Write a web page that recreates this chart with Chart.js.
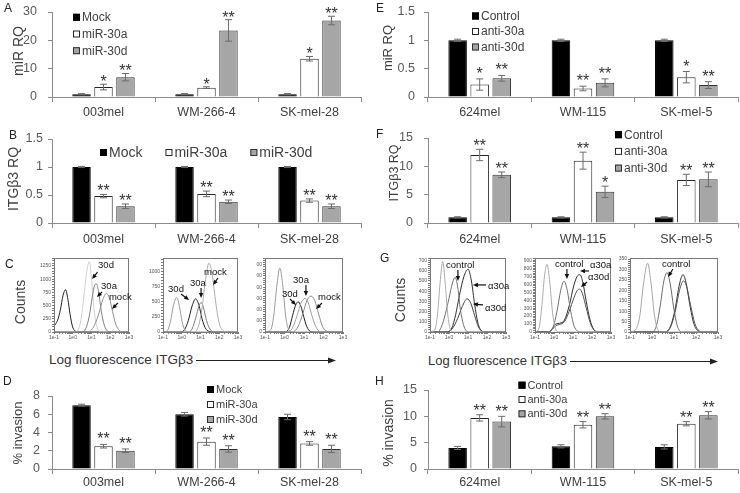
<!DOCTYPE html>
<html>
<head>
<meta charset="utf-8">
<script src="https://cdn.jsdelivr.net/npm/chart.js@4.4.1/dist/chart.umd.min.js"></script>
<style>
    body { margin: 0; background: #fff; }
    #fig { position: relative; width: 740px; height: 493px; overflow: hidden; font-family: "Liberation Sans", Arial, sans-serif; color: #404040; }
    #fig canvas { position: absolute; }
    .txt { position: absolute; line-height: 1; white-space: nowrap; }
    .vt { position: absolute; line-height: 1; white-space: nowrap; transform: translate(-50%, -50%) rotate(-90deg); }
    .pl { position: absolute; line-height: 1; font-size: 12px; color: #222; }
</style>
</head>
<body>
<div id="fig">
    <canvas id="chartA"></canvas>
    <canvas id="chartE"></canvas>
    <canvas id="chartB"></canvas>
    <canvas id="chartF"></canvas>
    <canvas id="chartD"></canvas>
    <canvas id="chartH"></canvas>
    <canvas id="histC1"></canvas>
    <canvas id="histC2"></canvas>
    <canvas id="histC3"></canvas>
    <canvas id="histG1"></canvas>
    <canvas id="histG2"></canvas>
    <canvas id="histG3"></canvas>

    <div class="pl" style="left:4px;top:2px">A</div>
    <div class="pl" style="left:9px;top:129px">B</div>
    <div class="pl" style="left:5px;top:258px">C</div>
    <div class="pl" style="left:3px;top:375px">D</div>
    <div class="pl" style="left:376px;top:2px">E</div>
    <div class="pl" style="left:376px;top:128px">F</div>
    <div class="pl" style="left:380px;top:252px">G</div>
    <div class="pl" style="left:375px;top:375px">H</div>

    <div class="vt" style="left:17.5px;top:51px;font-size:14px">miR RQ</div>
    <div class="vt" style="left:387px;top:47.5px;font-size:13px">miR RQ</div>
    <div class="vt" style="left:13px;top:179px;font-size:14px">ITGβ3 RQ</div>
    <div class="vt" style="left:394px;top:172.5px;font-size:12.5px">ITGβ3 RQ</div>
    <div class="vt" style="left:17px;top:433px;font-size:13px">% invasion</div>
    <div class="vt" style="left:387.5px;top:432.5px;font-size:14px">% invasion</div>
    <div class="vt" style="left:20px;top:302px;font-size:14px">Counts</div>
    <div class="vt" style="left:400px;top:300px;font-size:14px">Counts</div>

    <div class="txt" style="left:49px;top:353px;font-size:13.5px;color:#333">Log fluorescence ITGβ3</div>
    <div class="txt" style="left:428px;top:354px;font-size:13px;color:#333">Log fluorescence ITGβ3</div>
    <svg width="740" height="493" style="position:absolute;left:0;top:0">
        <line x1="196" y1="360.5" x2="330" y2="360.5" stroke="#222" stroke-width="1"/>
        <polygon points="336,360.5 328,357.5 328,363.5" fill="#222"/>
        <line x1="570" y1="361.5" x2="712" y2="361.5" stroke="#222" stroke-width="1"/>
        <polygon points="718,361.5 710,358.5 710,364.5" fill="#222"/>
    </svg>
</div>

<script>
// cell lines and groups
const miRCells = ['003mel', 'WM-266-4', 'SK-mel-28'];
const antiCells = ['624mel', 'WM-115', 'SK-mel-5'];
const miRNames = ['Mock', 'miR-30a', 'miR-30d'];
const antiNames = ['Control', 'anti-30a', 'anti-30d'];
const noStars = ['', '', ''];

// A - miR RQ after miR transfection
const aTicks = [0, 10, 20, 30];
const aMock = [1, 1, 1];
const aMockErr = [0.2, 0.2, 0.2];
const a30a = [3.5, 3.3, 13.5];
const a30aErr = [1.0, 0.3, 0.8];
const a30aStars = ['*', '*', '*'];
const a30d = [7.0, 23.5, 27.0];
const a30dErr = [1.3, 3.8, 1.5];
const a30dStars = ['**', '**', '**'];

// E - miR RQ after anti-miR
const eTicks = [0, 0.5, 1, 1.5];
const eCtrl = [1, 1, 1];
const eCtrlErr = [0.02, 0.02, 0.02];
const e30a = [0.22, 0.15, 0.35];
const e30aErr = [0.1, 0.04, 0.1];
const e30aStars = ['*', '**', '*'];
const e30d = [0.33, 0.25, 0.21];
const e30dErr = [0.05, 0.07, 0.06];
const e30dStars = ['**', '**', '**'];

// B - ITGB3 RQ
const bTicks = [0, 0.5, 1, 1.5];
const bMock = [1, 1, 1];
const bMockErr = [0.01, 0.01, 0.01];
const b30a = [0.48, 0.52, 0.40];
const b30aErr = [0.03, 0.05, 0.03];
const b30d = [0.30, 0.38, 0.30];
const b30dErr = [0.04, 0.03, 0.04];
const bStars = ['**', '**', '**'];

// F - ITGB3 RQ after anti-miR
const fTicks = [0, 5, 10, 15];
const fCtrl = [1, 1, 1];
const fCtrlErr = [0.1, 0.1, 0.1];
const f30a = [12.0, 11.0, 7.6];
const f30aErr = [1.0, 1.5, 1.0];
const f30aStars = ['**', '**', '**'];
const f30d = [8.5, 5.5, 7.7];
const f30dErr = [0.5, 1.0, 1.3];
const f30dStars = ['**', '*', '**'];

// D - % invasion
const dTicks = [0, 2, 4, 6, 8];
const dMock = [7.0, 6.0, 5.7];
const dMockErr = [0.1, 0.2, 0.3];
const d30a = [2.5, 3.0, 2.8];
const d30aErr = [0.2, 0.4, 0.2];
const d30d = [2.0, 2.2, 2.2];
const d30dErr = [0.2, 0.35, 0.4];
const dStars = ['**', '**', '**'];

// H - % invasion after anti-miR
const hTicks = [0, 5, 10, 15];
const hCtrl = [4.0, 4.3, 4.2];
const hCtrlErr = [0.3, 0.3, 0.4];
const h30a = [9.7, 8.4, 8.6];
const h30aErr = [0.6, 0.6, 0.4];
const h30d = [9.0, 10.0, 10.2];
const h30dErr = [1.0, 0.5, 0.7];
const hStars = ['**', '**', '**'];

// flow histograms: [log10 fluorescence, counts]
const histXLabels = ['1e-1', '1e0', '1e1', '1e2', '1e3'];

const c1Ticks = [0, 250, 500, 750, 1000, 1250];
const c1Iso = [[-1, 110], [-0.9, 160], [-0.78, 250], [-0.66, 420], [-0.52, 690], [-0.38, 800], [-0.26, 620], [-0.14, 330], [-0.02, 110], [0.12, 20], [0.3, 0], [3, 0]];
const c1d = [[-1, 0], [0.1, 0], [0.3, 50], [0.45, 260], [0.6, 700], [0.75, 1150], [0.88, 1330], [1.0, 1020], [1.1, 560], [1.22, 200], [1.35, 50], [1.55, 0], [3, 0]];
const c1a = [[-1, 0], [0.5, 0], [0.7, 70], [0.88, 300], [1.04, 660], [1.16, 880], [1.26, 910], [1.38, 760], [1.52, 400], [1.68, 130], [1.85, 20], [2.05, 0], [3, 0]];
const c1Mock = [[-1, 0], [0.8, 0], [1.0, 40], [1.2, 160], [1.4, 360], [1.6, 610], [1.8, 730], [1.96, 640], [2.12, 390], [2.3, 140], [2.5, 25], [2.7, 0], [3, 0]];

const c2Ticks = [0, 250, 500, 750, 1000];
const c2Iso = [[-1, 0], [-0.75, 30], [-0.6, 180], [-0.45, 430], [-0.27, 570], [-0.12, 420], [0.02, 170], [0.18, 30], [0.4, 0], [3, 0]];
const c2d = [[-1, 0], [-0.1, 0], [0.15, 40], [0.35, 190], [0.55, 430], [0.74, 550], [0.92, 440], [1.08, 220], [1.25, 70], [1.45, 10], [1.7, 0], [3, 0]];
const c2a = [[-1, 0], [0.35, 0], [0.55, 50], [0.75, 240], [0.92, 430], [1.04, 490], [1.16, 400], [1.32, 190], [1.5, 50], [1.75, 0], [3, 0]];
const c2Mock = [[-1, 0], [0.6, 0], [0.85, 60], [1.05, 330], [1.25, 820], [1.45, 1140], [1.62, 960], [1.82, 470], [2.0, 140], [2.2, 25], [2.45, 0], [3, 0]];

const c3Ticks = [0, 100, 200, 300, 400, 500, 600];
const c3TickLabels = ['0', '00', '00', '00', '00', '00', '00'];
const c3Iso = [[-1, 0], [-0.7, 20], [-0.55, 150], [-0.4, 400], [-0.24, 570], [-0.08, 400], [0.06, 140], [0.22, 20], [0.4, 0], [3, 0]];
const c3d = [[-1, 0], [0.05, 0], [0.25, 40], [0.42, 150], [0.57, 240], [0.7, 270], [0.84, 230], [0.98, 140], [1.14, 50], [1.32, 5], [1.5, 0], [3, 0]];
const c3a = [[-1, 0], [0.2, 0], [0.45, 50], [0.65, 150], [0.85, 260], [1.05, 300], [1.22, 260], [1.4, 150], [1.6, 50], [1.85, 0], [3, 0]];
const c3Mock = [[-1, 0], [0.4, 0], [0.7, 50], [0.95, 170], [1.15, 280], [1.35, 320], [1.55, 280], [1.75, 160], [1.95, 50], [2.2, 5], [2.4, 0], [3, 0]];

const g1Ticks = [0, 100, 200, 300, 400, 500, 600, 700];
const g1Iso = [[-1, 0], [-0.75, 20], [-0.6, 180], [-0.47, 480], [-0.33, 690], [-0.2, 480], [-0.07, 180], [0.08, 20], [0.25, 0], [3, 0]];
const g1Ctrl = [[-1, 0], [-0.6, 0], [-0.4, 50], [-0.2, 170], [0.0, 330], [0.18, 480], [0.32, 535], [0.46, 440], [0.6, 220], [0.78, 60], [0.95, 5], [1.1, 0], [3, 0]];
const g1a = [[-1, 0], [-0.1, 0], [0.15, 40], [0.35, 170], [0.55, 360], [0.78, 540], [1.0, 615], [1.18, 500], [1.35, 270], [1.52, 90], [1.72, 10], [1.9, 0], [3, 0]];
const g1d = [[-1, 0], [-0.1, 0], [0.2, 40], [0.45, 130], [0.7, 250], [0.95, 325], [1.15, 280], [1.35, 160], [1.55, 50], [1.75, 5], [1.95, 0], [3, 0]];

const g2Ticks = [0, 100, 200, 300, 400, 500, 600, 700, 800, 900];
const g2Iso = [[-1, 0], [-0.8, 40], [-0.65, 300], [-0.5, 700], [-0.37, 850], [-0.22, 620], [-0.08, 250], [0.08, 40], [0.25, 0], [3, 0]];
const g2Ctrl = [[-1, 0], [-0.3, 0], [-0.05, 60], [0.15, 250], [0.35, 520], [0.53, 640], [0.7, 520], [0.88, 260], [1.05, 80], [1.25, 10], [1.45, 0], [3, 0]];
const g2a = [[-1, 0], [-0.3, 0], [-0.1, 40], [0.1, 100], [0.3, 110], [0.55, 150], [0.8, 330], [1.05, 590], [1.25, 710], [1.37, 720], [1.52, 620], [1.7, 380], [1.9, 150], [2.1, 30], [2.35, 0], [3, 0]];
const g2d = [[-1, 0], [-0.3, 0], [-0.1, 30], [0.1, 80], [0.3, 95], [0.55, 130], [0.8, 260], [1.05, 430], [1.22, 520], [1.35, 540], [1.5, 480], [1.7, 300], [1.9, 120], [2.1, 25], [2.35, 0], [3, 0]];

const g3Ticks = [0, 50, 100, 150, 200, 250, 300, 350];
const g3Iso = [[-1, 0], [-0.75, 10], [-0.55, 80], [-0.4, 220], [-0.2, 330], [-0.05, 240], [0.1, 90], [0.25, 15], [0.45, 0], [3, 0]];
const g3Ctrl = [[-1, 0], [0.0, 0], [0.2, 30], [0.38, 130], [0.53, 240], [0.68, 285], [0.83, 230], [0.98, 120], [1.15, 30], [1.35, 0], [3, 0]];
const g3a = [[-1, 0], [0.6, 0], [0.85, 30], [1.05, 110], [1.25, 230], [1.41, 275], [1.56, 230], [1.72, 130], [1.9, 40], [2.1, 5], [2.3, 0], [3, 0]];
const g3d = [[-1, 0], [0.6, 0], [0.85, 25], [1.05, 95], [1.25, 200], [1.43, 245], [1.58, 215], [1.75, 130], [1.95, 40], [2.15, 5], [2.35, 0], [3, 0]];

Chart.defaults.font.family = '"Liberation Sans", Arial, sans-serif';

const barFill = ['#000000', '#ffffff', '#a6a6a6'];
const barEdge = ['#000000', '#262626', '#303030'];

// error bars, asterisks and the small legend of the bar panels
const barExtras = {
    id: 'barExtras',
    afterDatasetsDraw(chart, args, opts) {
        if (!opts || !opts.legend) return;
        const ctx = chart.ctx;
        const y = chart.scales.y;
        ctx.save();
        chart.data.datasets.forEach((ds, i) => {
            chart.getDatasetMeta(i).data.forEach((bar, j) => {
                const top = y.getPixelForValue(ds.data[j] + ds.errors[j]);
                const bot = y.getPixelForValue(ds.data[j] - ds.errors[j]);
                ctx.strokeStyle = '#6b6b6b';
                ctx.lineWidth = 1;
                ctx.beginPath();
                ctx.moveTo(bar.x, top); ctx.lineTo(bar.x, bot);
                ctx.moveTo(bar.x - 3.5, top); ctx.lineTo(bar.x + 3.5, top);
                ctx.moveTo(bar.x - 3.5, bot); ctx.lineTo(bar.x + 3.5, bot);
                ctx.stroke();
                if (ds.stars[j]) {
                    ctx.fillStyle = '#333';
                    ctx.font = '16px "Liberation Sans", Arial';
                    ctx.textAlign = 'center';
                    ctx.textBaseline = 'alphabetic';
                    ctx.fillText(ds.stars[j], bar.x, top - opts.starGap + 7);
                }
            });
        });

        // legend
        const lg = opts.legend;
        const sq = 7;
        let lx = lg.x, ly = lg.y;
        ctx.font = lg.size + 'px "Liberation Sans", Arial';
        ctx.textAlign = 'left';
        ctx.textBaseline = 'middle';
        chart.data.datasets.forEach(ds => {
            ctx.fillStyle = ds.backgroundColor;
            ctx.fillRect(lx, ly - sq / 2, sq, sq);
            ctx.strokeStyle = ds.borderColor;
            ctx.strokeRect(lx + 0.5, ly - sq / 2 + 0.5, sq - 1, sq - 1);
            ctx.fillStyle = '#404040';
            ctx.fillText(ds.label, lx + sq + 2, ly + 0.5);
            if (lg.horizontal) {
                lx += sq + 2 + ctx.measureText(ds.label).width + lg.gap;
            } else {
                ly += lg.step;
            }
        });
        ctx.restore();
    }
};

// frame, labels and arrows of the flow histograms
const histNotes = {
    id: 'histNotes',
    afterDatasetsDraw(chart, args, opts) {
        if (!opts || !opts.notes) return;
        const { ctx, chartArea, scales: { x, y } } = chart;
        ctx.save();
        ctx.strokeStyle = '#7a7a7a';
        ctx.lineWidth = 1;
        ctx.strokeRect(chartArea.left + 0.5, chartArea.top + 0.5, chartArea.width - 1, chartArea.height);
        ctx.font = '9.5px "Liberation Sans", Arial';
        ctx.textAlign = 'left';
        ctx.textBaseline = 'alphabetic';
        opts.notes.forEach(n => {
            ctx.fillStyle = '#111';
            ctx.fillText(n.text, x.getPixelForValue(n.x), y.getPixelForValue(n.y));
            const x1 = x.getPixelForValue(n.arrow[0]), y1 = y.getPixelForValue(n.arrow[1]);
            const x2 = x.getPixelForValue(n.arrow[2]), y2 = y.getPixelForValue(n.arrow[3]);
            const ang = Math.atan2(y2 - y1, x2 - x1);
            ctx.strokeStyle = '#111';
            ctx.lineWidth = 1.2;
            ctx.beginPath();
            ctx.moveTo(x1, y1);
            ctx.lineTo(x2 - 3 * Math.cos(ang), y2 - 3 * Math.sin(ang));
            ctx.stroke();
            ctx.beginPath();
            ctx.moveTo(x2, y2);
            ctx.lineTo(x2 - 5 * Math.cos(ang) + 2.2 * Math.sin(ang), y2 - 5 * Math.sin(ang) - 2.2 * Math.cos(ang));
            ctx.lineTo(x2 - 5 * Math.cos(ang) - 2.2 * Math.sin(ang), y2 - 5 * Math.sin(ang) + 2.2 * Math.cos(ang));
            ctx.closePath();
            ctx.fill();
        });
        ctx.restore();
    }
};

Chart.register(barExtras, histNotes);

function place(canvas, box) {
    canvas.width = box.w;
    canvas.height = box.h;
    canvas.style.left = box.x + 'px';
    canvas.style.top = box.y + 'px';
}

// box = canvas on the page, area = wanted plot area on the page
function barChart(id, box, area, spec) {
    const canvas = document.getElementById(id);
    place(canvas, box);
    const yw = area.l - box.x;
    const xh = box.y + box.h - area.b;
    const ticks = spec.ticks;
    return new Chart(canvas, {
        type: 'bar',
        data: {
            labels: spec.labels,
            datasets: spec.series.map((s, i) => ({
                label: spec.names[i],
                data: s[0],
                errors: s[1],
                stars: s[2],
                backgroundColor: barFill[i],
                borderColor: barEdge[i],
                borderWidth: 1,
                barPercentage: 0.84,
                categoryPercentage: 0.64
            }))
        },
        options: {
            responsive: false,
            animation: false,
            events: [],
            layout: { padding: { left: 0, top: area.t - box.y, right: box.x + box.w - area.r, bottom: 0 } },
            plugins: {
                legend: { display: false },
                tooltip: { enabled: false },
                barExtras: {
                    starGap: spec.starGap,
                    legend: Object.assign({}, spec.legend, { x: spec.legend.x - box.x, y: spec.legend.y - box.y })
                }
            },
            scales: {
                x: {
                    ticks: { color: '#404040', font: { size: 12.5 }, padding: spec.xPad },
                    grid: { drawOnChartArea: false, tickLength: 5, color: '#8c8c8c', offset: true },
                    border: { color: '#8c8c8c' },
                    afterFit: s => { s.height = xh; s.paddingLeft = 0; s.paddingRight = 0; }
                },
                y: {
                    min: 0,
                    max: ticks[ticks.length - 1],
                    afterBuildTicks: s => { s.ticks = ticks.map(v => ({ value: v })); },
                    ticks: { color: '#595959', font: { size: 12.5 }, padding: spec.yPad, callback: v => String(v) },
                    grid: { drawOnChartArea: false, tickLength: 4, color: '#8c8c8c' },
                    border: { color: '#8c8c8c' },
                    afterFit: s => { s.width = yw; s.paddingTop = 0; s.paddingBottom = 0; }
                }
            }
        }
    });
}

// log ticks of the histograms, 1e-1 .. 1e3 with minor ticks
const logTickValues = [];
for (let d = -1; d < 3; d++) {
    for (let k = 1; k < 10; k++) logTickValues.push(d + Math.log10(k));
}
logTickValues.push(3);

function histChart(id, frame, spec) {
    const canvas = document.getElementById(id);
    const box = { x: frame.l - 26, y: frame.t - 8, w: frame.r - frame.l + 34, h: frame.b - frame.t + 18 };
    place(canvas, box);
    const majors = spec.yTicks;
    const labels = spec.yLabels || majors.map(String);
    return new Chart(canvas, {
        type: 'line',
        data: {
            datasets: spec.curves.map((c, i) => ({
                data: c.map(p => ({ x: p[0], y: p[1] })),
                borderColor: spec.colors[i],
                borderWidth: 1,
                pointRadius: 0,
                fill: false,
                cubicInterpolationMode: 'monotone'
            }))
        },
        options: {
            responsive: false,
            animation: false,
            events: [],
            layout: { padding: { left: 0, top: 8, right: 8, bottom: 0 } },
            plugins: { legend: { display: false }, tooltip: { enabled: false }, histNotes: { notes: spec.notes } },
            scales: {
                x: {
                    type: 'linear', min: -1, max: 3,
                    afterBuildTicks: s => { s.ticks = logTickValues.map(v => ({ value: v })); },
                    ticks: {
                        autoSkip: false, maxRotation: 0, padding: 1, color: '#555', font: { size: 5 },
                        callback: v => (Math.abs(v - Math.round(v)) < 1e-6 ? histXLabels[Math.round(v) + 1] : '')
                    },
                    grid: { drawOnChartArea: false, tickLength: 2, color: '#7a7a7a' },
                    border: { color: '#7a7a7a' },
                    afterFit: s => { s.height = 10; s.paddingLeft = 0; s.paddingRight = 0; }
                },
                y: {
                    min: 0, max: spec.yMax,
                    afterBuildTicks: s => {
                        const minor = (majors[1] - majors[0]) / 5;
                        const list = [];
                        for (let v = 0; v <= spec.yMax + 1e-9; v += minor) list.push({ value: Math.round(v * 1000) / 1000 });
                        s.ticks = list;
                    },
                    ticks: {
                        autoSkip: false, padding: 1, color: '#555', font: { size: 5 },
                        callback: v => { const i = majors.indexOf(v); return i >= 0 ? labels[i] : ''; }
                    },
                    grid: { drawOnChartArea: false, tickLength: 2, color: '#7a7a7a' },
                    border: { color: '#7a7a7a' },
                    afterFit: s => { s.width = 26; s.paddingTop = 0; s.paddingBottom = 0; }
                }
            }
        }
    });
}

// bar panels
barChart('chartA', { x: 0, y: 0, w: 370, h: 123 }, { l: 52, t: 12, r: 361, b: 97 }, {
    labels: miRCells, names: miRNames, ticks: aTicks, xPad: 3, yPad: 11, starGap: 4,
    series: [[aMock, aMockErr, noStars], [a30a, a30aErr, a30aStars], [a30d, a30dErr, a30dStars]],
    legend: { x: 73, y: 17.3, step: 16.7, size: 12 }
});
barChart('chartE', { x: 370, y: 0, w: 370, h: 123 }, { l: 428, t: 12, r: 738, b: 97 }, {
    labels: antiCells, names: antiNames, ticks: eTicks, xPad: 3.5, yPad: 9, starGap: 7,
    series: [[eCtrl, eCtrlErr, noStars], [e30a, e30aErr, e30aStars], [e30d, e30dErr, e30dStars]],
    legend: { x: 472, y: 16, step: 15.5, size: 12 }
});
barChart('chartB', { x: 0, y: 123, w: 370, h: 127 }, { l: 52, t: 139, r: 361, b: 223 }, {
    labels: miRCells, names: miRNames, ticks: bTicks, xPad: 4, yPad: 5, starGap: 5,
    series: [[bMock, bMockErr, noStars], [b30a, b30aErr, bStars], [b30d, b30dErr, bStars]],
    legend: { x: 100, y: 152.5, size: 14, horizontal: true, gap: 23 }
});
barChart('chartF', { x: 370, y: 123, w: 370, h: 127 }, { l: 428, t: 138, r: 738, b: 223 }, {
    labels: antiCells, names: antiNames, ticks: fTicks, xPad: 4, yPad: 11, starGap: 5,
    series: [[fCtrl, fCtrlErr, noStars], [f30a, f30aErr, f30aStars], [f30d, f30dErr, f30dStars]],
    legend: { x: 615, y: 134.7, step: 16.7, size: 12 }
});
barChart('chartD', { x: 0, y: 375, w: 370, h: 118 }, { l: 52, t: 396, r: 361, b: 469 }, {
    labels: miRCells, names: miRNames, ticks: dTicks, xPad: 1, yPad: 8, starGap: 7,
    series: [[dMock, dMockErr, noStars], [d30a, d30aErr, dStars], [d30d, d30dErr, dStars]],
    legend: { x: 207, y: 389.5, step: 15, size: 11 }
});
barChart('chartH', { x: 370, y: 375, w: 370, h: 118 }, { l: 428, t: 390, r: 738, b: 469 }, {
    labels: antiCells, names: antiNames, ticks: hTicks, xPad: 1, yPad: 7, starGap: 6,
    series: [[hCtrl, hCtrlErr, noStars], [h30a, h30aErr, hStars], [h30d, h30dErr, hStars]],
    legend: { x: 518.5, y: 385.2, step: 14.3, size: 11 }
});

// flow panels
histChart('histC1', { l: 54, r: 129, t: 258, b: 332 }, {
    yMax: 1400, yTicks: c1Ticks,
    curves: [c1Mock, c1a, c1d, c1Iso], colors: ['#8f8f8f', '#808080', '#cfcfcf', '#1e1e1e'],
    notes: [
        { text: '30d', x: 1.35, y: 1211, arrow: [1.32, 1135, 1.03, 1003] },
        { text: '30a', x: 1.51, y: 814, arrow: [1.56, 757, 1.29, 662] },
        { text: 'mock', x: 1.93, y: 605, arrow: [2.41, 549, 2.09, 435] }
    ]
});
histChart('histC2', { l: 163, r: 238, t: 258, b: 332 }, {
    yMax: 1225, yTicks: c2Ticks,
    curves: [c2Mock, c2Iso, c2a, c2d], colors: ['#ababab', '#9a9a9a', '#7a7a7a', '#1e1e1e'],
    notes: [
        { text: '30d', x: -0.73, y: 662, arrow: [-0.04, 629, 0.39, 530] },
        { text: '30a', x: 0.44, y: 761, arrow: [1.03, 728, 1.03, 563] },
        { text: 'mock', x: 1.19, y: 943, arrow: [1.93, 894, 1.67, 778] }
    ]
});
histChart('histC3', { l: 265, r: 343, t: 258, b: 332 }, {
    yMax: 660, yTicks: c3Ticks, yLabels: c3TickLabels,
    curves: [c3Mock, c3a, c3Iso, c3d], colors: ['#8a8a8a', '#a0a0a0', '#9a9a9a', '#1e1e1e'],
    notes: [
        { text: '30a', x: 0.44, y: 437, arrow: [1.1, 419, 1.1, 321] },
        { text: '30d', x: -0.13, y: 312, arrow: [0.28, 294, 0.59, 241] },
        { text: 'mock', x: 1.72, y: 285, arrow: [1.92, 259, 1.62, 205] }
    ]
});
histChart('histG1', { l: 430, r: 506, t: 258, b: 332 }, {
    yMax: 725, yTicks: g1Ticks,
    curves: [g1Iso, g1Ctrl, g1d, g1a], colors: ['#ababab', '#707070', '#404040', '#2e2e2e'],
    notes: [
        { text: 'control', x: -0.16, y: 627, arrow: [0.47, 608, 0.47, 500] },
        { text: 'α30a', x: 2.05, y: 421, arrow: [1.95, 461, 1.26, 461] },
        { text: 'α30d', x: 1.89, y: 206, arrow: [1.79, 265, 1.26, 274] }
    ]
});
histChart('histG2', { l: 535, r: 611, t: 258, b: 332 }, {
    yMax: 930, yTicks: g2Ticks,
    curves: [g2Iso, g2Ctrl, g2d, g2a], colors: ['#ababab', '#707070', '#505050', '#2e2e2e'],
    notes: [
        { text: 'control', x: 0.05, y: 817, arrow: [0.68, 792, 0.68, 666] },
        { text: 'α30a', x: 1.89, y: 804, arrow: [1.84, 767, 1.37, 767] },
        { text: 'α30d', x: 1.79, y: 654, arrow: [1.74, 629, 1.42, 566] }
    ]
});
histChart('histG3', { l: 630, r: 718, t: 258, b: 332 }, {
    yMax: 355, yTicks: g3Ticks,
    curves: [g3Iso, g3Ctrl, g3d, g3a], colors: ['#a5a5a5', '#6a6a6a', '#555555', '#2e2e2e'],
    notes: [
        { text: 'control', x: 0.45, y: 312, arrow: [0.95, 302, 0.73, 264] }
    ]
});
</script>
</body>
</html>
